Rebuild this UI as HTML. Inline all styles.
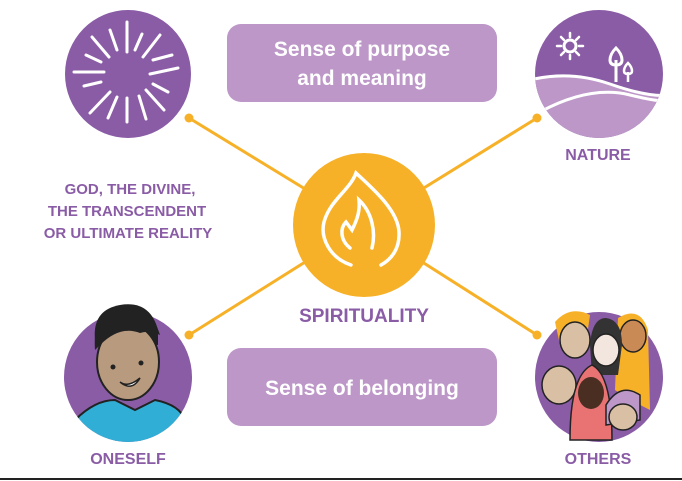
<!DOCTYPE html>
<html><head><meta charset="utf-8"><style>
html,body{margin:0;padding:0;background:#fff;width:682px;height:481px;overflow:hidden}
svg{display:block}
text{font-family:"Liberation Sans",sans-serif;font-weight:bold}
</style></head><body>
<svg width="682" height="481" viewBox="0 0 682 481">
<!-- connectors -->
<g stroke="#f7b128" stroke-width="3" fill="none">
<line x1="189" y1="118" x2="364" y2="225"/>
<line x1="537" y1="118" x2="364" y2="225"/>
<line x1="189" y1="335" x2="364" y2="225"/>
<line x1="537" y1="335" x2="364" y2="225"/>
</g>
<g fill="#f7b128">
<circle cx="189" cy="118" r="4.5"/><circle cx="537" cy="118" r="4.5"/>
<circle cx="189" cy="335" r="4.5"/><circle cx="537" cy="335" r="4.5"/>
</g>
<!-- boxes -->
<rect x="227" y="24" width="270" height="78" rx="14" fill="#bc97c8"/>
<rect x="227" y="348" width="270" height="78" rx="14" fill="#bc97c8"/>
<text x="362" y="56" font-size="21" fill="#fff" text-anchor="middle">Sense of purpose</text>
<text x="362" y="85" font-size="21" fill="#fff" text-anchor="middle">and meaning</text>
<text x="362" y="395" font-size="21" fill="#fff" text-anchor="middle">Sense of belonging</text>
<!-- god -->
<ellipse cx="128" cy="74" rx="63" ry="64" fill="#8a5ca6"/>
<g stroke="#fff" stroke-width="3" stroke-linecap="round">
<line x1="127" y1="22" x2="127" y2="52"/><line x1="127" y1="98" x2="127" y2="122"/>
<line x1="74" y1="72" x2="104" y2="72"/><line x1="150" y1="74" x2="178" y2="68"/>
<line x1="92" y1="37" x2="109" y2="57"/><line x1="146" y1="90" x2="164" y2="110"/>
<line x1="160" y1="35" x2="143" y2="57"/><line x1="110" y1="92" x2="90" y2="113"/>
<line x1="110" y1="30" x2="117" y2="50"/><line x1="139" y1="96" x2="146" y2="119"/>
<line x1="142" y1="34" x2="135" y2="50"/><line x1="117" y1="97" x2="108" y2="118"/>
<line x1="86" y1="55" x2="101" y2="62"/><line x1="153" y1="84" x2="168" y2="92"/>
<line x1="153" y1="60" x2="172" y2="55"/><line x1="84" y1="86" x2="101" y2="82"/>
</g>
<text x="130" y="194" font-size="15" fill="#8a5ca6" text-anchor="middle">GOD, THE DIVINE,</text>
<text x="127" y="216" font-size="15" fill="#8a5ca6" text-anchor="middle">THE TRANSCENDENT</text>
<text x="128" y="238" font-size="15" fill="#8a5ca6" text-anchor="middle">OR ULTIMATE REALITY</text>
<!-- nature -->
<clipPath id="nc"><ellipse cx="599" cy="74" rx="64" ry="64"/></clipPath>
<ellipse cx="599" cy="74" rx="64" ry="64" fill="#8a5ca6"/>
<g clip-path="url(#nc)">
<path d="M530 80 Q570 70 610 84 T670 95 L670 140 L530 140Z" fill="#bc97c8"/>
<path d="M530 80 Q570 70 610 84 T670 95" stroke="#fff" stroke-width="3" fill="none"/>
<path d="M540 112 Q590 85 630 95 T670 98" stroke="#fff" stroke-width="3" fill="none"/>
</g>
<circle cx="570" cy="46" r="6" stroke="#fff" stroke-width="3" fill="none"/>
<g stroke="#fff" stroke-width="2.5" stroke-linecap="round"><line x1="570" y1="33" x2="570" y2="37"/><line x1="570" y1="55" x2="570" y2="59"/><line x1="557" y1="46" x2="561" y2="46"/><line x1="579" y1="46" x2="583" y2="46"/><line x1="561" y1="37" x2="564" y2="40"/><line x1="576" y1="52" x2="579" y2="55"/><line x1="579" y1="37" x2="576" y2="40"/><line x1="561" y1="55" x2="564" y2="52"/></g>
<path d="M616 82 L616 60 M616 48 q-6 6-6 12 q0 5 6 5 q6 0 6-5 q0-6-6-12Z" stroke="#fff" stroke-width="3" fill="none"/>
<path d="M628 82 L628 72 M628 63 q-4 4-4 8 q0 3 4 3 q4 0 4-3 q0-4-4-8Z" stroke="#fff" stroke-width="2.5" fill="none"/>
<text x="598" y="160" font-size="16" fill="#8a5ca6" text-anchor="middle">NATURE</text>
<!-- center -->
<ellipse cx="364" cy="225" rx="71" ry="72" fill="#f7b128"/>
<path d="M351 265 C330 258 320 238 324 222 C330 200 350 190 356 173 C372 188 398 210 399 232 C400 250 390 260 381 265" stroke="#fff" stroke-width="3.5" fill="none" stroke-linecap="round"/>
<path d="M350 248 C340 240 340 228 346 222 L352 230 C358 218 360 210 359 200 C372 212 376 232 372 248" stroke="#fff" stroke-width="3.5" fill="none" stroke-linecap="round"/>
<text x="364" y="322" font-size="19" fill="#8a5ca6" text-anchor="middle">SPIRITUALITY</text>
<!-- oneself -->
<clipPath id="oc"><ellipse cx="128" cy="377" rx="64" ry="65"/></clipPath>
<ellipse cx="128" cy="377" rx="64" ry="65" fill="#8a5ca6"/>
<g clip-path="url(#oc)">
<path d="M75 420 Q95 400 115 400 L135 410 L155 400 Q180 405 185 420 L185 450 L70 450Z" fill="#31aed5" stroke="#222" stroke-width="2"/>
</g>
<path d="M95 340 Q92 310 120 305 Q150 300 158 330 L158 345 Z" fill="#222"/>
<ellipse cx="128" cy="362" rx="31" ry="38" fill="#b89a7f" stroke="#222" stroke-width="2"/>
<path d="M95 350 Q92 312 120 306 Q150 303 160 335 Q150 330 140 333 Q120 325 100 345Z" fill="#222"/>
<circle cx="113" cy="367" r="2.5" fill="#222"/><circle cx="141" cy="363" r="2.5" fill="#222"/>
<path d="M120 382 Q128 388 140 378 Q132 392 120 382Z" fill="#fff" stroke="#222" stroke-width="1.5"/>
<text x="128" y="464" font-size="16" fill="#8a5ca6" text-anchor="middle">ONESELF</text>
<!-- others -->
<ellipse cx="599" cy="377" rx="64" ry="65" fill="#8a5ca6"/>
<path d="M618 318 Q640 305 648 330 L650 410 Q630 400 615 390Z" fill="#f7b128"/>
<ellipse cx="633" cy="336" rx="13" ry="16" fill="#c98a55" stroke="#222" stroke-width="1.5"/>
<path d="M555 322 Q570 305 590 315 L585 350 L560 345Z" fill="#f7b128"/>
<ellipse cx="575" cy="340" rx="15" ry="18" fill="#d9c0a4" stroke="#222" stroke-width="1.5"/>
<path d="M590 345 Q592 318 606 318 Q622 320 622 345 L618 375 L592 375Z" fill="#333"/>
<ellipse cx="606" cy="350" rx="13" ry="16" fill="#f3e6de" stroke="#222" stroke-width="1.5"/>
<ellipse cx="559" cy="385" rx="17" ry="19" fill="#d9c0a4" stroke="#222" stroke-width="1.5"/>
<path d="M570 440 Q570 375 592 365 Q612 375 612 440Z" fill="#e97373" stroke="#222" stroke-width="1.5"/>
<ellipse cx="591" cy="393" rx="13" ry="16" fill="#4a2e22"/>
<path d="M606 405 Q620 382 640 395 L640 420 L606 425Z" fill="#bc97c8" stroke="#222" stroke-width="1.5"/>
<ellipse cx="623" cy="417" rx="14" ry="13" fill="#d9c0a4" stroke="#222" stroke-width="1.5"/>
<text x="598" y="464" font-size="16" fill="#8a5ca6" text-anchor="middle">OTHERS</text>
<line x1="0" y1="479" x2="682" y2="479" stroke="#222" stroke-width="2"/>
</svg>
</body></html>
